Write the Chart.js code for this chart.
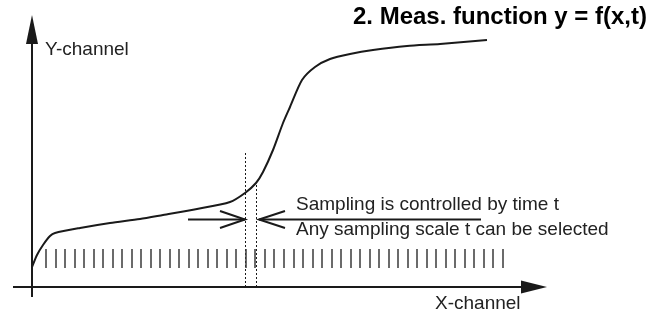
<!DOCTYPE html>
<html>
<head>
<meta charset="utf-8">
<title>2. Meas. function y = f(x,t)</title>
<script src="https://cdn.jsdelivr.net/npm/chart.js@4/dist/chart.umd.min.js"></script>
<style>
    html, body { margin: 0; padding: 0; background: #ffffff; }
    canvas { display: block; }
</style>
</head>
<body>
<canvas id="ChartCanvas" width="666" height="313"></canvas>
<script>
// measured curve y = f(x,t), both counted from the crossing of the axes
var curveX = [0, 5, 11, 18, 23, 48, 78, 108, 131, 165, 198, 213, 224, 231, 241, 251, 258, 270, 283, 298, 318, 341, 375, 408, 455];
var curveY = [20, 32, 42, 51, 54, 59, 64, 68, 72, 78, 85, 94, 104, 115, 137, 164, 180, 207, 220, 228, 233, 237, 241, 243, 247];

// sampling instants t (the row of marks under the curve)
var sampleX = [14, 24, 33, 43, 52, 62, 71, 81, 90, 100, 109, 119, 128, 138, 147, 157, 166, 176, 185, 195, 204, 214, 223, 233, 242,
               252, 262, 271, 281, 290, 300, 309, 319, 328, 338, 347, 357, 366, 376, 385, 395, 404, 414, 423, 433, 442, 452, 461, 471];
var sampleLevel = 28.5;

// the two sampling times around the steep part (dotted markers)
var markerX = [213.5, 224.5];
var markerTop = [135, 104];

var axisLabels = ["X-channel", "Y-channel"];
var noteLines = ["Sampling is controlled by time t", "Any sampling scale t can be selected"];
var titleText = "2. Meas. function y = f(x,t)";

var climateChart = document.getElementById("ChartCanvas").getContext("2d");
var textColor = "#222222";
var lineColor = "#1a1a1a";

function toPoints(xs, ys) //pair up two arrays into {x, y} points
{
    var points = [];
    for(var i = 0; i < xs.length; i++)
    {
        points.push({x: xs[i], y: ys[i]});
    }
    return points;
}

function drawHead(ctx, tipX, tipY, baseX, baseY, halfWidth, filled) //arrow head, from pixel positions
{
    var dx = tipX - baseX;
    var dy = tipY - baseY;
    var len = Math.sqrt(dx*dx + dy*dy);
    var nx = -dy/len*halfWidth;
    var ny = dx/len*halfWidth;

    ctx.beginPath();
    ctx.moveTo(baseX + nx, baseY + ny);
    ctx.lineTo(tipX, tipY);
    ctx.lineTo(baseX - nx, baseY - ny);
    if(filled)
    {
        ctx.closePath();
        ctx.fill();
    }
    else
    {
        ctx.stroke();
    }
}

var sketchPlugin = //arrow heads, sampling arrows and all texts
{
    id: "sketch",
    afterDatasetsDraw: function(chart)
    {
        var ctx = chart.ctx;
        var sx = chart.scales.x;
        var sy = chart.scales.y;
        var px = function(v) { return sx.getPixelForValue(v); };
        var py = function(v) { return sy.getPixelForValue(v); };

        ctx.save();
        ctx.fillStyle = lineColor;
        ctx.strokeStyle = lineColor;

        drawHead(ctx, px(515), py(0), px(489), py(0), 6.5, true); //x-channel arrow
        drawHead(ctx, px(0), py(272), px(0), py(243), 6, true); //y-channel arrow

        var arrowY = py(67.5);
        ctx.lineWidth = 2;
        ctx.beginPath(); //left arrow and the long line under the note
        ctx.moveTo(px(156), arrowY);
        ctx.lineTo(px(markerX[0] - 0.5), arrowY);
        ctx.moveTo(px(markerX[1] + 2.5), arrowY);
        ctx.lineTo(px(449), arrowY);
        ctx.stroke();
        drawHead(ctx, px(markerX[0] - 0.5), arrowY, px(188), arrowY, 8.5, false);
        drawHead(ctx, px(markerX[1] + 2.5), arrowY, px(253), arrowY, 8.5, false);

        ctx.fillStyle = textColor;
        ctx.textBaseline = "middle";
        ctx.textAlign = "left";
        ctx.font = "19px 'Liberation Sans', Arial, sans-serif";
        ctx.fillText(axisLabels[1], px(13), py(237));
        ctx.fillText(axisLabels[0], px(403), py(-17));
        ctx.fillText(noteLines[0], px(264), py(82));
        ctx.fillText(noteLines[1], px(264), py(57));

        ctx.fillStyle = "#000000";
        ctx.textAlign = "right";
        ctx.font = "bold 24px 'Liberation Sans', Arial, sans-serif";
        ctx.fillText(titleText, px(615), py(270));
        ctx.restore();
    }
};

var data =
{
    datasets:
    [
        {
            type: "line",
            data: toPoints(curveX, curveY),
            borderColor: lineColor,
            borderWidth: 2,
            pointRadius: 0,
            tension: 0.25,
            fill: false
        },
        {
            type: "scatter",
            data: sampleX.map(function(v) { return {x: v, y: sampleLevel}; }),
            pointStyle: "line",
            rotation: 90,
            pointRadius: 9.5,
            borderWidth: 1.5,
            borderColor: "#3a3a3a"
        },
        {
            type: "line",
            data: toPoints([-19, 489], [0, 0]), //x-channel axis
            borderColor: lineColor,
            borderWidth: 2,
            pointRadius: 0
        },
        {
            type: "line",
            data: toPoints([0, 0], [-10, 243]), //y-channel axis
            borderColor: lineColor,
            borderWidth: 2,
            pointRadius: 0
        },
        {
            type: "line",
            data: toPoints([markerX[0], markerX[0]], [0, markerTop[0]]),
            borderColor: lineColor,
            borderWidth: 1,
            borderDash: [2, 2],
            pointRadius: 0
        },
        {
            type: "line",
            data: toPoints([markerX[1], markerX[1]], [0, markerTop[1]]),
            borderColor: lineColor,
            borderWidth: 1,
            borderDash: [2, 2],
            pointRadius: 0
        }
    ]
};

var config =
{
    type: "line",
    data: data,
    plugins: [sketchPlugin],
    options:
    {
        responsive: false,
        animation: false,
        layout: { padding: 0, autoPadding: false },
        plugins:
        {
            legend: { display: false },
            tooltip: { enabled: false }
        },
        scales:
        {
            x: { type: "linear", min: -32, max: 634, display: false },
            y: { type: "linear", min: -26, max: 287, display: false }
        }
    }
};

var createdChart = new Chart(climateChart, config);
</script>
</body>
</html>
